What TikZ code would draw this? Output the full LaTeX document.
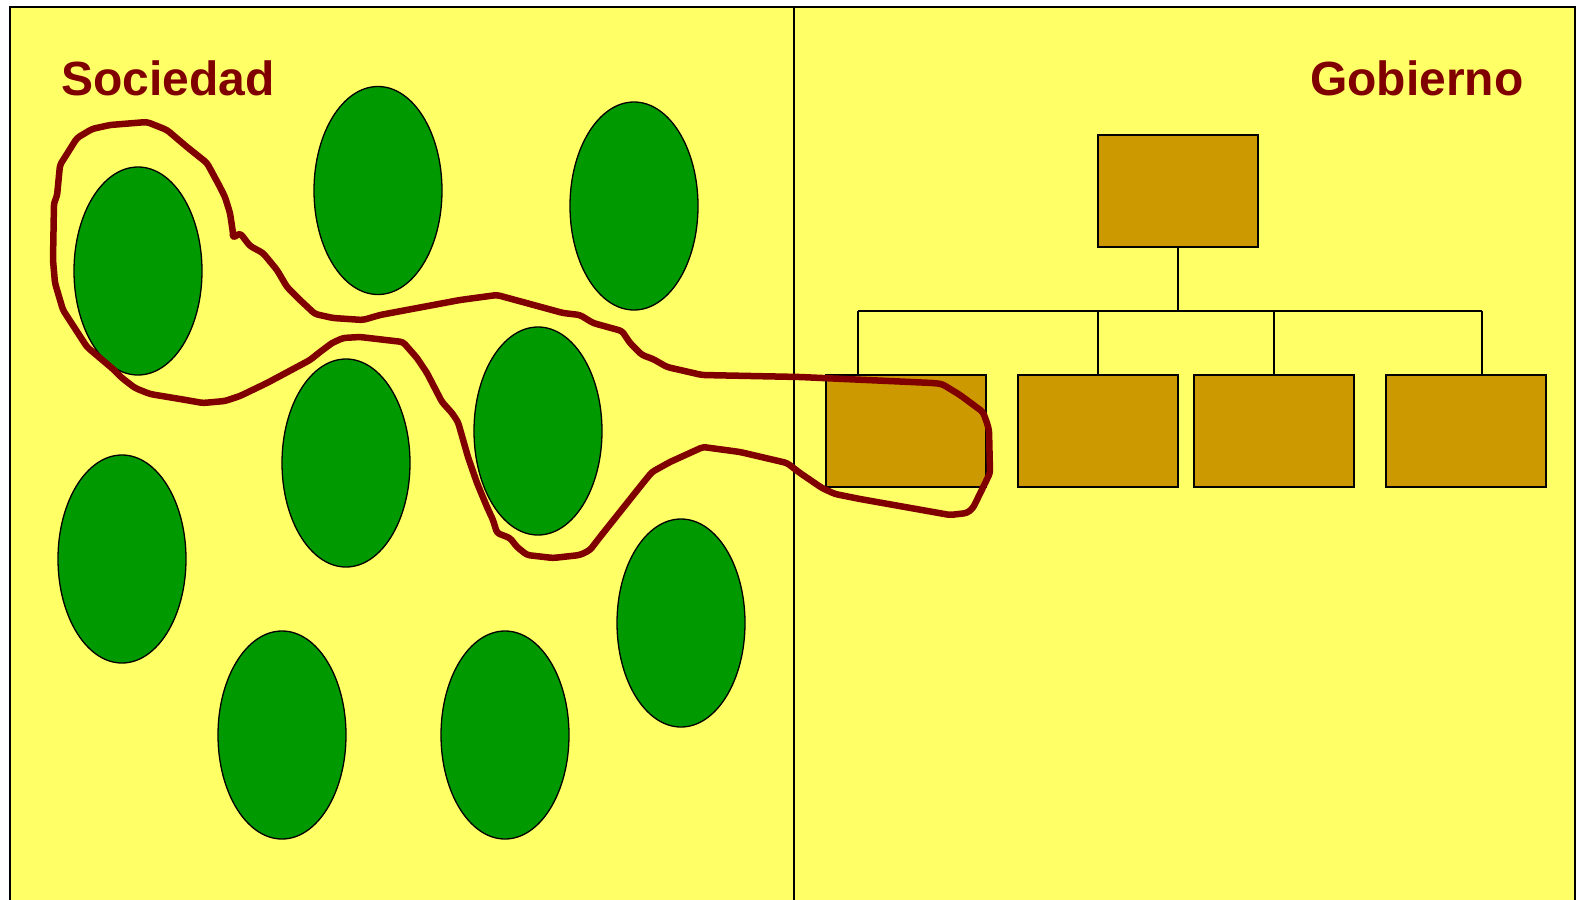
\documentclass[tikz,border=0pt]{standalone}
\usepackage{fontspec}
\setmainfont{Liberation Sans}
\usetikzlibrary{shapes.geometric}
\definecolor{bgyellow}{HTML}{FFFF66}
\definecolor{blobgreen}{HTML}{009900}
\definecolor{boxgold}{HTML}{CC9900}
\definecolor{darkred}{HTML}{800000}
\tikzset{
  blob/.style={ellipse, draw=black, line width=1.3pt, fill=blobgreen, minimum width=128pt, minimum height=208pt, inner sep=0pt},
  orgbox/.style={rectangle, draw=black, line width=1.6pt, fill=boxgold, minimum width=160pt, minimum height=112pt, inner sep=0pt},
  orgline/.style={draw=black, line width=1.3pt},
  title/.style={anchor=base west, inner sep=0pt, text=darkred, font=\fontsize{48}{56}\selectfont\bfseries},
  lasso/.style={draw=darkred, line width=6.5pt, line join=round, line cap=round, rounded corners=3pt}
}
\begin{document}
\begin{tikzpicture}[x=1pt, y=-1pt]
\useasboundingbox (0,0) rectangle (1578,899);
\fill[white] (0,0) rectangle (1578,899);
\clip (0,0) rectangle (1578,899);
\fill[bgyellow] (9.5,7) rectangle (1574.5,910);
\draw[line width=2pt] (9.5,910) -- (9.5,7) -- (1574.5,7) -- (1574.5,910);
\draw[line width=1.5pt] (794,7) -- (794,910);

\node[title] (soc) at (61,95.5) {Sociedad};
\node[title] (gob) at (1310,95) {Gobierno};

% green blobs
\node[blob] (e1) at (138,271) {};
\node[blob] (e2) at (378,190.5) {};
\node[blob] (e3) at (634,206) {};
\node[blob] (e4) at (346,463) {};
\node[blob] (e5) at (538,431) {};
\node[blob] (e6) at (122,559) {};
\node[blob] (e7) at (282,735) {};
\node[blob] (e8) at (505,735) {};
\node[blob] (e9) at (681,623) {};

% org chart
\node[orgbox] (top) at (1178,191) {};
\node[orgbox] (b1) at (906,431) {};
\node[orgbox] (b2) at (1098,431) {};
\node[orgbox] (b3) at (1274,431) {};
\node[orgbox] (b4) at (1466,431) {};
\coordinate (j1) at (858,311);
\coordinate (j4) at (1482,311);
\draw[orgline] (top.south) -- (top.south |- j1);
\draw[orgline] (j1) -- (j4);
\draw[orgline] (j1) -- (j1 |- b1.north);
\draw[orgline] (b2.north) -- (b2.north |- j1);
\draw[orgline] (b3.north) -- (b3.north |- j1);
\draw[orgline] (j4) -- (j4 |- b4.north);

% freehand lasso
\draw[lasso] (233,238) -- (233,233) -- (230,213) -- (225,197) -- (220,187) -- (207,163) -- (187,147) -- (167,130) -- (147,122)
  -- (110,125) -- (92,129) -- (77,138) -- (60,165) -- (57,196) -- (54,203) -- (53,260) -- (55,283) -- (63,310)
  -- (87,347) -- (113,369) -- (122,378) -- (135,388) -- (150,394) -- (180,399) -- (203,403) -- (225,401) -- (240,396) -- (267,383)
  -- (310,360) -- (320,352) -- (332,343) -- (343,338) -- (360,337) -- (403,342)
  -- (417,358) -- (427,373) -- (442,402) -- (452,413) -- (458,422) -- (468,457) -- (477,483) -- (487,507)
  -- (493,520) -- (497,533) -- (510,538) -- (517,547) -- (527,555) -- (553,558) -- (580,555) -- (590,550)
  -- (600,537) -- (643,483) -- (652,472) -- (670,462) -- (703,447) -- (740,452) -- (787,463) -- (800,473)
  -- (822,488) -- (835,494) -- (860,499) -- (950,515) -- (967,513) -- (973,508) -- (990,473) -- (989,430)
  -- (987,423) -- (983,412) -- (960,395) -- (942,384) -- (933,383) -- (800,377) -- (702,375) -- (667,367)
  -- (653,359) -- (642,355) -- (630,343) -- (622,331) -- (593,323) -- (580,315) -- (563,313) -- (497,295)
  -- (460,300) -- (380,315) -- (363,320) -- (333,318) -- (315,314) -- (300,300) -- (287,287) -- (277,270) -- (263,253)
  -- (250,246) -- (240,233) -- cycle;
\end{tikzpicture}
\end{document}
